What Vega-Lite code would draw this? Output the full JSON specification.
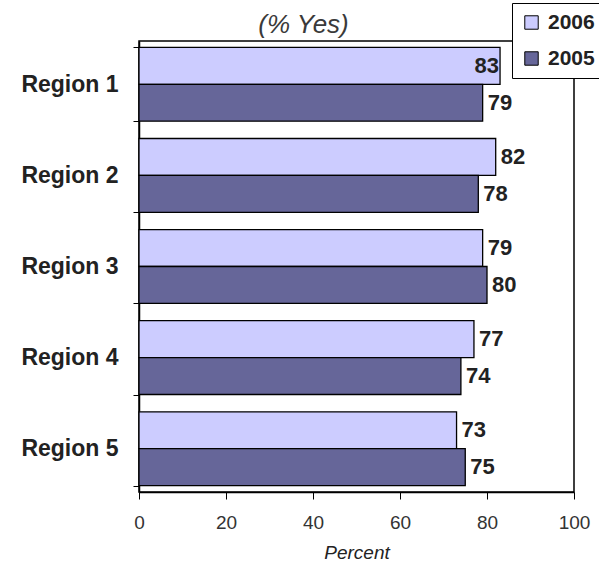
{
  "$schema": "https://vega.github.io/schema/vega-lite/v6.json",
  "autosize": {"type": "none"},
  "padding": {"left": 139, "top": 41, "right": 25, "bottom": 71},
  "width": 435,
  "height": 451,
  "background": "white",
  "title": {
    "text": "(% Yes)",
    "font": "Liberation Sans",
    "fontSize": 26,
    "fontStyle": "italic",
    "fontWeight": "normal",
    "color": "#3a3a3a",
    "anchor": "middle",
    "baseline": "alphabetic",
    "dx": -53,
    "offset": -56
  },
  "config": {
    "view": {"stroke": "black", "strokeWidth": 1.5},
    "font": "Liberation Sans"
  },
  "data": {
    "values": [
      {"region": "Region 1", "year": "2006", "pct": 83},
      {"region": "Region 1", "year": "2005", "pct": 79},
      {"region": "Region 2", "year": "2006", "pct": 82},
      {"region": "Region 2", "year": "2005", "pct": 78},
      {"region": "Region 3", "year": "2006", "pct": 79},
      {"region": "Region 3", "year": "2005", "pct": 80},
      {"region": "Region 4", "year": "2006", "pct": 77},
      {"region": "Region 4", "year": "2005", "pct": 74},
      {"region": "Region 5", "year": "2006", "pct": 73},
      {"region": "Region 5", "year": "2005", "pct": 75}
    ]
  },
  "encoding": {
    "y": {
      "field": "region",
      "type": "nominal",
      "scale": {"paddingInner": 0.19, "paddingOuter": 0.07},
      "axis": {
        "title": null,
        "labelFont": "Liberation Sans",
        "labelFontSize": 23,
        "labelFontWeight": "bold",
        "labelColor": "#222222",
        "labelPadding": 15,
        "tickBand": "extent",
        "tickColor": "black",
        "tickSize": 6,
        "domainColor": "black",
        "domainWidth": 1.5
      }
    },
    "yOffset": {"field": "year", "type": "nominal", "sort": ["2006", "2005"]},
    "x": {
      "field": "pct",
      "type": "quantitative",
      "scale": {"domain": [0, 100], "nice": false},
      "axis": {
        "values": [0, 20, 40, 60, 80, 100],
        "grid": false,
        "labelFlush": false,
        "title": "Percent",
        "titleFont": "Liberation Sans",
        "titleFontSize": 19,
        "titleFontStyle": "italic",
        "titleFontWeight": "normal",
        "titleColor": "#222222",
        "titlePadding": 11,
        "labelFont": "Liberation Sans",
        "labelFontSize": 19,
        "labelColor": "#333333",
        "labelPadding": 14,
        "tickColor": "black",
        "tickSize": 7,
        "domainColor": "black",
        "domainWidth": 1.5
      }
    }
  },
  "layer": [
    {
      "mark": {"type": "bar", "stroke": "black", "strokeWidth": 1.3},
      "encoding": {
        "color": {
          "field": "year",
          "type": "nominal",
          "scale": {"domain": ["2006", "2005"], "range": ["#ccccff", "#666699"]},
          "legend": {
            "title": null,
            "orient": "none",
            "legendX": 373,
            "legendY": -38,
            "fillColor": "white",
            "strokeColor": "black",
            "padding": 9,
            "symbolType": "square",
            "symbolSize": 180,
            "symbolStrokeColor": "black",
            "symbolStrokeWidth": 1,
            "labelFont": "Liberation Sans",
            "labelFontSize": 21,
            "labelFontWeight": "bold",
            "labelColor": "#222222",
            "rowPadding": 14,
            "labelOffset": 6
          }
        }
      }
    },
    {
      "transform": [{"filter": "datum.pct < 83"}],
      "mark": {
        "type": "text",
        "align": "left",
        "dx": 5,
        "font": "Liberation Sans",
        "fontSize": 22,
        "fontWeight": "bold",
        "color": "#222222"
      },
      "encoding": {"text": {"field": "pct", "type": "quantitative"}}
    },
    {
      "transform": [{"filter": "datum.pct >= 83"}],
      "mark": {
        "type": "text",
        "align": "right",
        "dx": -1,
        "font": "Liberation Sans",
        "fontSize": 22,
        "fontWeight": "bold",
        "color": "#222222"
      },
      "encoding": {"text": {"field": "pct", "type": "quantitative"}}
    }
  ]
}
